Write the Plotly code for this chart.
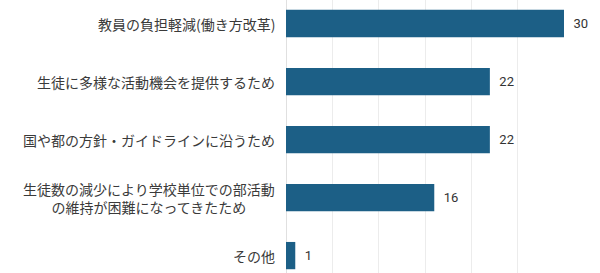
import plotly.graph_objects as go

categories = [
    "教員の負担軽減(働き方改革)",
    "生徒に多様な活動機会を提供するため",
    "国や都の方針・ガイドラインに沿うため",
    "生徒数の減少により学校単位での部活動<br>の維持が困難になってきたため",
    "その他",
]
values = [30, 22, 22, 16, 1]
tick_vals = [0, 5, 10, 15, 20, 25, 30]

ypos = list(range(len(categories)))

fig = go.Figure()
fig.add_trace(go.Bar(
    x=values,
    y=ypos,
    orientation="h",
    width=0.47,
    marker=dict(color="#1c5f86", line=dict(width=0)),
    text=[str(v) for v in values],
    texttemplate="  %{text}",
    textposition="outside",
    cliponaxis=False,
    textfont=dict(family="Liberation Sans Narrow, Roboto", size=13, color="#333333"),
))

for i, c in enumerate(categories):
    fig.add_annotation(
        x=0, xref="paper", y=i, yref="y",
        text=c, showarrow=False, xanchor="right", yanchor="middle",
        xshift=-9, align="center",
        font=dict(family="Noto Sans CJK JP", size=14, color="#3a3a3a"),
    )

fig.update_layout(
    width=600, height=273,
    margin=dict(l=286, r=36, t=0, b=0),
    paper_bgcolor="white", plot_bgcolor="white",
    showlegend=False,
    xaxis=dict(range=[0, 30], tickvals=tick_vals, showticklabels=False,
               showgrid=True, gridcolor="#ececec", gridwidth=1,
               zeroline=True, zerolinecolor="#e0e0e0", zerolinewidth=1),
    yaxis=dict(range=[4.3, -0.405], showticklabels=False, showgrid=False,
               zeroline=False),
)

fig.write_html("out.html", config={"displayModeBar": False},
               post_script="document.body.style.margin='0';")
